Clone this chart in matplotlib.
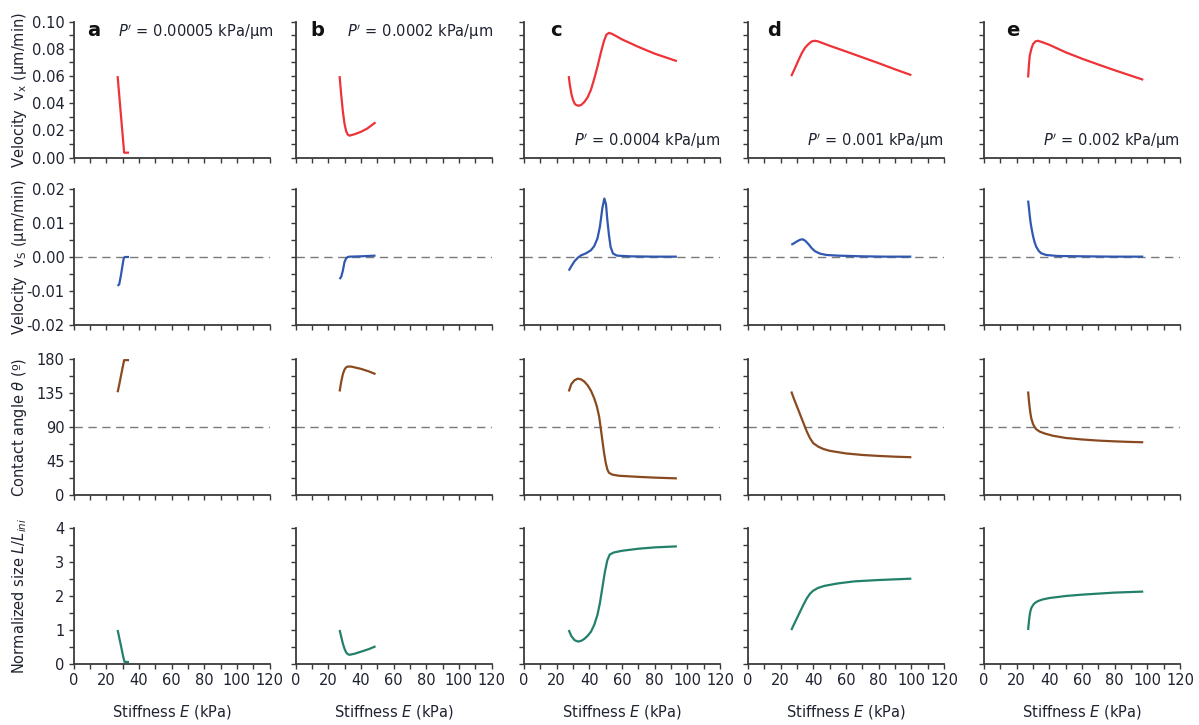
import matplotlib
matplotlib.use("Agg")
import matplotlib.pyplot as plt
from matplotlib.ticker import MultipleLocator, FormatStrFormatter

plt.rcParams['font.family'] = ['DejaVu Sans']
plt.rcParams['axes.unicode_minus'] = False
plt.rcParams['mathtext.fontset'] = 'dejavusans'

# ---------------- data: stiffness E (kPa) and model outputs ----------------
# panel a, P' = 0.00005 kPa/um
a_vx_E = [27, 31, 34]
a_vx = [0.060, 0.0037, 0.0037]
a_vs_E = [27, 28, 29, 30, 30.8, 31.5, 34]
a_vs = [-0.0085, -0.0080, -0.0055, -0.0025, -0.0003, 0.0, 0.0]
a_th_E = [27, 28, 29, 30, 31, 34]
a_th = [136, 146, 157, 168, 178.5, 178.5]
a_L_E = [27, 29, 30.5, 31.3, 34]
a_L = [1.0, 0.55, 0.2, 0.06, 0.06]

# panel b, P' = 0.0002 kPa/um
b_vx_E = [27, 28, 29, 30, 31, 32, 33, 36, 40, 44, 49]
b_vx = [0.060, 0.046, 0.034, 0.025, 0.0195, 0.0170, 0.0162, 0.0172, 0.0190, 0.0215, 0.0260]
b_vs_E = [27, 28, 29, 30, 31, 32, 33, 40, 49]
b_vs = [-0.0065, -0.0058, -0.0040, -0.0015, -0.0004, 0.0, 0.0001, 0.0002, 0.0004]
b_th_E = [27, 28, 29, 30, 31, 32, 34, 40, 45, 49]
b_th = [137, 150, 160, 166, 169, 170, 170, 167, 163.5, 160]
b_L_E = [27, 28, 29, 30, 31, 32, 33, 36, 40, 45, 49]
b_L = [1.0, 0.8, 0.6, 0.45, 0.34, 0.29, 0.27, 0.30, 0.36, 0.44, 0.52]

# panel c, P' = 0.0004 kPa/um
c_vx_E = [27.4, 28, 29, 30, 31, 32, 33.5, 35, 37, 39, 41, 43, 45, 47, 49, 50.5, 52, 54, 60, 70, 80, 93.6]
c_vx = [0.060, 0.054, 0.047, 0.0425, 0.0398, 0.0387, 0.0382, 0.0388, 0.0410, 0.0445, 0.0500, 0.0580,
        0.0670, 0.0770, 0.0860, 0.0905, 0.0918, 0.0910, 0.0870, 0.0815, 0.0765, 0.0710]
c_vs_E = [27.4, 29, 31, 33, 35, 38, 41, 43, 45, 46.5, 48, 49.2, 50.2, 51, 52, 53, 54.5, 57, 65, 80, 93.6]
c_vs = [-0.0040, -0.0027, -0.0012, -0.0002, 0.0005, 0.0011, 0.0020, 0.0032, 0.0055, 0.0090, 0.0145,
        0.0172, 0.0155, 0.0110, 0.0065, 0.0030, 0.0010, 0.0004, 0.0002, 0.0001, 0.0001]
c_th_E = [27.4, 29, 31, 33, 35, 37, 39, 41, 43, 44.5, 46, 47, 48, 49, 50, 51, 52, 54, 58, 70, 80, 93.6]
c_th = [137, 147, 152, 154, 153, 150, 145, 138, 128, 118, 104, 88, 72, 56, 43, 34, 29.5, 27, 25.5,
        24, 23, 22]
c_L_E = [27.4, 29, 31, 33, 35, 37, 39, 41, 43, 45, 46.5, 48, 49.5, 51, 52.5, 55, 60, 70, 80, 93.6]
c_L = [1.0, 0.82, 0.70, 0.66, 0.68, 0.74, 0.83, 0.95, 1.15, 1.45, 1.80, 2.25, 2.70, 3.05, 3.22,
       3.28, 3.33, 3.39, 3.43, 3.46]

# panel d, P' = 0.001 kPa/um
d_vx_E = [26.5, 29, 31, 33, 35, 37, 39, 41, 43, 50, 60, 70, 80, 90, 100]
d_vx = [0.060, 0.0665, 0.0720, 0.0770, 0.0810, 0.0835, 0.0855, 0.0860, 0.0855, 0.0823, 0.0781,
        0.0738, 0.0695, 0.0650, 0.0607]
d_vs_E = [26.5, 28, 30, 32, 33.5, 35, 37, 39, 41, 44, 48, 55, 70, 85, 100]
d_vs = [0.0036, 0.0040, 0.0046, 0.0051, 0.0052, 0.0048, 0.0038, 0.0026, 0.0017, 0.0010, 0.0006,
        0.0004, 0.0002, 0.0001, 0.0001]
d_th_E = [26.5, 28, 30, 32, 34, 36, 38, 40, 43, 46, 50, 60, 70, 80, 90, 100]
d_th = [137, 128, 117, 106, 95, 84, 75, 68.5, 64, 61, 58.5, 55, 53, 51.7, 50.7, 50]
d_L_E = [26.5, 28, 30, 32, 34, 36, 38, 40, 43, 47, 55, 65, 80, 100]
d_L = [1.0, 1.15, 1.35, 1.55, 1.75, 1.93, 2.07, 2.16, 2.24, 2.30, 2.37, 2.43, 2.47, 2.51]

# panel e, P' = 0.002 kPa/um
e_vx_E = [27, 27.5, 28, 29, 30, 31.5, 33, 36, 40, 50, 60, 70, 80, 90, 97.5]
e_vx = [0.059, 0.068, 0.075, 0.080, 0.0835, 0.0855, 0.0860, 0.0848, 0.0830, 0.0775, 0.0728,
        0.0685, 0.0643, 0.0603, 0.0573]
e_vs_E = [27, 27.5, 28, 28.5, 29, 30, 31, 32, 33.5, 35, 38, 45, 60, 80, 97.5]
e_vs = [0.0166, 0.0145, 0.0122, 0.0102, 0.0087, 0.0062, 0.0043, 0.0030, 0.0018, 0.0011, 0.0006,
        0.0003, 0.0002, 0.0001, 0.0001]
e_th_E = [27, 27.5, 28, 28.5, 29, 30, 31, 32, 34, 37, 42, 50, 60, 70, 80, 90, 97.5]
e_th = [137, 125, 115, 107, 101, 94, 90, 87, 84, 81.5, 78.5, 75.5, 73.5, 72, 71, 70.2, 69.8]
e_L_E = [27, 27.5, 28, 28.5, 29, 30, 31, 33, 36, 40, 50, 60, 70, 80, 97.5]
e_L = [1.0, 1.25, 1.45, 1.57, 1.65, 1.73, 1.79, 1.85, 1.90, 1.94, 2.00, 2.04, 2.07, 2.10, 2.13]

panel_letters = ['a', 'b', 'c', 'd', 'e']
pressure_labels = ["0.00005", "0.0002", "0.0004", "0.001", "0.002"]

series = [
    [(a_vx_E, a_vx), (a_vs_E, a_vs), (a_th_E, a_th), (a_L_E, a_L)],
    [(b_vx_E, b_vx), (b_vs_E, b_vs), (b_th_E, b_th), (b_L_E, b_L)],
    [(c_vx_E, c_vx), (c_vs_E, c_vs), (c_th_E, c_th), (c_L_E, c_L)],
    [(d_vx_E, d_vx), (d_vs_E, d_vs), (d_th_E, d_th), (d_L_E, d_L)],
    [(e_vx_E, e_vx), (e_vs_E, e_vs), (e_th_E, e_th), (e_L_E, e_L)],
]

row_colors = ['#ee3338', '#3158b0', '#8a4a20', '#23806a']
row_ylims = [(0, 0.10), (-0.02, 0.02), (0, 180), (0, 4)]
row_major = [0.02, 0.01, 45, 1]
row_minor = [0.01, 0.005, 22.5, 0.5]
row_fmt = ['%.2f', '%.2f', '%d', '%d']
row_ylabels = [r"Velocity  $\mathrm{v_x}$ (μm/min)",
               r"Velocity  $\mathrm{v_S}$ (μm/min)",
               r"Contact angle $\theta$ (º)",
               r"Normalized size $L/L_{ini}$"]
row_ref = [None, 0.0, 90.0, None]

# ---------------- layout (pixels) ----------------
W, H = 1199, 725
col_left = [73.5, 295.5, 524, 748, 984]
col_w = 196
row_top = [21.7, 189, 359, 528]
row_h = 136

fig = plt.figure(figsize=(W / 100, H / 100), dpi=100)
axis_color = '#3a3a3a'
text_color = '#1f2330'

letter_dx = [20, 22, 32, 26, 29]

for ci in range(5):
    for ri in range(4):
        left = col_left[ci] / W
        bottom = 1 - (row_top[ri] + row_h) / H
        ax = fig.add_axes([left, bottom, col_w / W, row_h / H])
        x, y = series[ci][ri]
        ax.plot(x, y, color=row_colors[ri], lw=1.6, solid_capstyle='butt', clip_on=False, zorder=3)
        if row_ref[ri] is not None:
            ax.axhline(row_ref[ri], color='#7a7a7a', lw=1.0, ls=(0, (6, 4)), zorder=2)
        ax.set_xlim(0, 120)
        ax.set_ylim(*row_ylims[ri])
        for s in ['top', 'right']:
            ax.spines[s].set_visible(False)
        for s in ['left', 'bottom']:
            ax.spines[s].set_color(axis_color)
            ax.spines[s].set_linewidth(1.3)
        ax.xaxis.set_major_locator(MultipleLocator(20))
        ax.xaxis.set_minor_locator(MultipleLocator(10))
        ax.yaxis.set_major_locator(MultipleLocator(row_major[ri]))
        ax.yaxis.set_minor_locator(MultipleLocator(row_minor[ri]))
        ax.yaxis.set_major_formatter(FormatStrFormatter(row_fmt[ri]))
        ax.tick_params(which='both', direction='out', length=3.5, width=1.0, color=axis_color,
                       labelsize=10.5, labelcolor=text_color, pad=3)
        if ci != 0:
            ax.tick_params(axis='y', labelleft=False)
        if ri != 3:
            ax.tick_params(axis='x', labelbottom=False)
        else:
            ax.set_xlabel(r"Stiffness $E$ (kPa)", fontsize=10.5, color=text_color, labelpad=11)
        ax.patch.set_alpha(0)

        if ri == 0:
            ax.text(letter_dx[ci] / col_w, 0.935, panel_letters[ci], transform=ax.transAxes,
                    fontsize=14, fontweight='bold', ha='center', va='center', color='#111111')
            ptxt = r"$P'$ = " + pressure_labels[ci] + " kPa/μm"
            if ci < 2:
                px, py = (1.02 if ci == 0 else 1.01), 0.925
            else:
                px, py = 1.0, 0.12
            ax.text(px, py, ptxt, transform=ax.transAxes, fontsize=10.5, ha='right', va='center',
                    color=text_color)

for ri in range(4):
    yc = 1 - (row_top[ri] + row_h / 2) / H
    fig.text(20 / W, yc, row_ylabels[ri], rotation=90, ha='center', va='center',
             fontsize=10.5, color=text_color)

fig.savefig('out.png', dpi=100, facecolor='white')
